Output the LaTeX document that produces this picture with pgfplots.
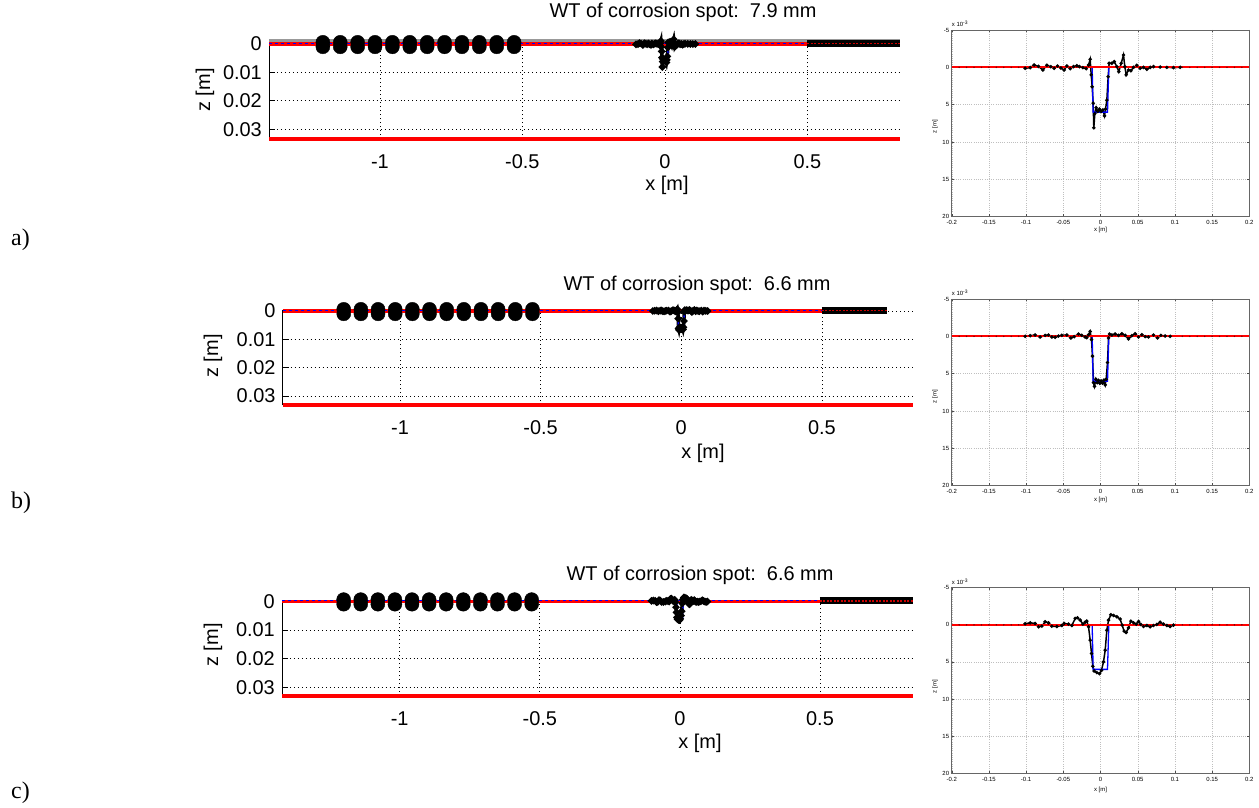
\documentclass[border=0pt]{standalone}
\usepackage{pgfplots}
\pgfplotsset{compat=1.18}
\usepackage{pgfplotstable}
\usepackage{fontspec}
\setmainfont{Liberation Sans}
\newfontfamily\seriffont{Liberation Serif}

\pgfplotstableread{
x z
-0.1013 0.13
-0.0945 0.04
-0.0892 -0.31
-0.0833 -0.13
-0.0775 0.36
-0.0721 -0.27
-0.0668 -0.09
-0.0623 0.13
-0.0578 -0.18
-0.0533 0.09
-0.0488 0.36
-0.0453 -0.18
-0.0408 0.18
-0.0363 -0.09
-0.0318 -0.22
-0.0282 -0.09
-0.0237 0.04
-0.0193 0.18
-0.0161 -0.31
-0.0139 -1.07
-0.0125 1.0
-0.0112 2.6
-0.0099 4.8
-0.0090 8.1
-0.0076 6.2
-0.0058 5.4
-0.0036 5.9
-0.0013 5.6
0.0009 5.9
0.0031 5.7
0.0054 6.5
0.0067 5.6
0.0085 4.4
0.0103 1.25
0.0116 -0.54
0.0152 -0.54
0.0184 -0.76
0.0220 -0.09
0.0246 0.58
0.0278 -0.54
0.0309 -1.65
0.0327 -0.09
0.0345 1.0
0.0376 0.36
0.0408 0.45
0.0444 0.0
0.0488 -0.27
0.0533 0.13
0.0578 0.0
0.0623 0.27
0.0668 0.0
0.0712 -0.09
0.0802 -0.04
0.0892 0.0
0.0981 0.04
0.1071 0.0
}\spotA

\pgfplotstableread{
x z
-0.1013 0
-0.0945 -0.09
-0.0878 -0.18
-0.0811 0.09
-0.0744 -0.13
-0.0699 -0.18
-0.0654 0.09
-0.0609 0.13
-0.0565 -0.04
-0.0520 -0.13
-0.0453 -0.18
-0.0399 0.22
-0.0354 0.04
-0.0296 -0.31
-0.0251 -0.13
-0.0206 0.09
-0.0184 0.18
-0.0161 -0.22
-0.0139 -0.66
-0.0121 0.44
-0.0108 2.65
-0.0094 6.2
-0.0081 6.7
-0.0063 5.75
-0.0045 6.2
-0.0027 5.9
-0.0009 6.3
0.0009 5.97
0.0027 6.28
0.0045 5.88
0.0063 6.5
0.0076 5.75
0.0094 3.5
0.0108 0.22
0.0121 -0.31
0.0152 -0.18
0.0197 -0.31
0.0242 -0.13
0.0287 -0.35
0.0332 -0.13
0.0376 0.35
0.0421 -0.09
0.0466 -0.35
0.0511 0.09
0.0556 -0.22
0.0600 0.04
0.0645 0.09
0.0712 -0.18
0.0766 0.22
0.0811 -0.13
0.0869 -0.04
0.0936 0
}\spotB

\pgfplotstableread{
x z
-0.1013 -0.14
-0.0945 -0.27
-0.0878 -0.18
-0.0833 0.27
-0.0788 0.18
-0.0744 -0.41
-0.0699 -0.27
-0.0654 0.18
-0.0587 0.23
-0.0520 0.09
-0.0488 -0.18
-0.0430 -0.09
-0.0385 0.09
-0.0340 -0.86
-0.0309 -0.95
-0.0273 -0.63
-0.0237 -0.09
-0.0206 -0.36
-0.0184 -0.5
-0.0161 0.27
-0.0139 2.07
-0.0121 3.87
-0.0103 5.59
-0.0085 6.22
-0.0049 6.44
-0.0013 6.58
0.0013 6.13
0.0040 5.0
0.0063 3.42
0.0085 0.72
0.0108 -0.63
0.0139 -1.35
0.0175 -1.26
0.0220 -1.08
0.0264 -0.77
0.0291 0.05
0.0318 0.86
0.0345 1.04
0.0376 0.41
0.0408 -0.5
0.0444 -0.27
0.0479 -0.09
0.0511 -0.45
0.0542 -0.05
0.0578 0.23
0.0623 0.09
0.0668 0.27
0.0712 0.09
0.0757 -0.05
0.0802 -0.36
0.0847 -0.09
0.0892 0.09
0.0936 0.23
0.0981 0.05
}\spotC

\pgfplotstableread{
x z
-1.200 0
-1.139 0
-1.078 0
-1.017 0
-0.956 0
-0.895 0
-0.834 0
-0.773 0
-0.712 0
-0.651 0
-0.590 0
-0.529 0
}\sensors

\pgfplotstableread{
x z
-0.0112 0
-0.0099 6
0.0094 6
0.0112 0
}\rect

\pgfplotstableread{
x z
-0.19 0
-0.18 0
-0.17 0
-0.16 0
-0.15 0
-0.14 0
-0.13 0
-0.12 0
-0.11 0
0.11 0
0.12 0
0.13 0
0.14 0
0.15 0
0.16 0
0.17 0
0.18 0
0.19 0
}\refline

\pgfplotsset{
  bigstyle/.style={
    scale only axis, clip=false, scaled y ticks=false, scaled x ticks=false,
    axis x line*=bottom, axis y line*=left,
    xtick={-1,-0.5,0,0.5}, xticklabels={-1,-0.5,0,0.5},
    ytick={0,-0.01,-0.02,-0.03}, yticklabels={0,0.01,0.02,0.03},
    grid=major,
    major grid style={black, line width=0.6pt, dash pattern=on 0.8pt off 3.2pt},
    tick align=inside, major tick length=6bp,
    x tick style={draw=none}, y tick style={black, line width=0.8pt},
    axis line style={black, line width=0.8pt},
    ticklabel style={font=\fontsize{20}{22}\selectfont},
    xticklabel style={anchor=center, yshift=-23bp},
    yticklabel style={anchor=east, inner sep=0pt, xshift=-7bp},
  },
  smallstyle/.style={
    scale only axis, width=297.6bp, scaled y ticks=false, scaled x ticks=false,
    xmin=-0.2, xmax=0.2, ymin=-20, ymax=5,
    xtick={-0.2,-0.15,-0.1,-0.05,0,0.05,0.1,0.15,0.2},
    xticklabels={-0.2,-0.15,-0.1,-0.05,0,0.05,0.1,0.15,0.2},
    ytick={5,0,-5,-10,-15,-20}, yticklabels={-5,0,5,10,15,20},
    grid=major,
    major grid style={black!25, line width=0.4pt, dash pattern=on 1pt off 1.2pt},
    tick align=inside, major tick length=2.5bp,
    tick style={black!70, line width=0.4pt},
    axis line style={black!60, line width=0.5pt},
    ticklabel style={font=\fontsize{6}{7}\selectfont, inner sep=0pt},
    xticklabel style={anchor=center, yshift=-6bp},
    yticklabel style={anchor=east, xshift=-2.4bp},
  },
}

\newcommand\bigdata[3]{% #1 = xmin, #2 = band end, #3 = spot table
  \addplot[red, line width=3.5pt] coordinates {(#1,0) (0.5,0)};
  \addplot[blue, line width=0.9pt, dash pattern=on 3pt off 3pt] coordinates {(#1,0.0002) (0.5,0.0002)};
  \addplot[black, line width=7pt] coordinates {(0.5,0.0003) (#2,0.0003)};
  \addplot[red!80!black, line width=1.5pt, dash pattern=on 2pt off 1.5pt] coordinates {(0.5,0.0001) (#2,0.0001)};
  \addplot[black, only marks, mark=*, mark size=7bp] table[x=x, y expr=0.0006] {\sensors};
  \addplot[black, only marks, mark=*, mark size=7bp] table[x=x, y expr=-0.0010] {\sensors};
  \addplot[black, line width=3.5pt, mark=*, mark size=1.5bp] table[x=x, y expr=-0.001*\thisrow{z}] {#3};
  \addplot[blue, line width=1.5pt] table[x=x, y expr=-0.001*\thisrow{z}] {\rect};
}

\newcommand\smalldata[1]{%
  \addplot[black, line width=1.5pt, mark=*, mark size=0.9bp] table[x=x, y expr=-\thisrow{z}] {#1};
  \addplot[blue, line width=1.3pt] table[x=x, y expr=-\thisrow{z}] {\rect};
  \addplot[red, line width=1.8pt] coordinates {(-0.2,0) (0.2,0)};
  \addplot[red!50!black, only marks, mark=*, mark size=0.5bp] table[x=x, y=z] {\refline};
}

\begin{document}
\begin{tikzpicture}
\path[use as bounding box] (0,0) rectangle (1259bp,808bp);

% ---------- a) big ----------
\begin{axis}[bigstyle, at={(269bp,669bp)}, anchor=south west,
  width=631bp, height=98.3bp,
  xmin=-1.389, xmax=0.825, ymin=-0.03345, ymax=0.00116]
  \addplot[gray!80, line width=3pt] coordinates {(-1.389,0.00116) (0.825,0.00116)};
  \bigdata{-1.389}{0.825}{\spotA}
  \addplot[red, line width=4pt] coordinates {(-1.389,-0.03345) (0.825,-0.03345)};
\end{axis}

% ---------- b) big ----------
\begin{axis}[bigstyle, at={(282.7bp,403bp)}, anchor=south west,
  width=630.3bp, height=95.4bp,
  xmin=-1.417, xmax=0.824, ymin=-0.0332, ymax=0.0005]
  \bigdata{-1.417}{0.731}{\spotB}
  \addplot[red, line width=4pt] coordinates {(-1.417,-0.0332) (0.824,-0.0332)};
\end{axis}

% ---------- c) big ----------
\begin{axis}[bigstyle, at={(282bp,112bp)}, anchor=south west,
  width=631bp, height=96.1bp,
  xmin=-1.42, xmax=0.832, ymin=-0.033, ymax=0.0005]
  \bigdata{-1.42}{0.832}{\spotC}
  \addplot[red, line width=4pt] coordinates {(-1.42,-0.033) (0.832,-0.033)};
\end{axis}

% ---------- small panels ----------
\begin{axis}[smallstyle, at={(951.7bp,591.3bp)}, anchor=south west, height=186.7bp]
  \smalldata{\spotA}
\end{axis}
\begin{axis}[smallstyle, at={(951.7bp,322.3bp)}, anchor=south west, height=186.7bp]
  \smalldata{\spotB}
\end{axis}
\begin{axis}[smallstyle, at={(951.7bp,34.7bp)}, anchor=south west, height=185.6bp]
  \smalldata{\spotC}
\end{axis}

% ---------- texts ----------
\begin{scope}[every node/.style={font=\fontsize{20}{22}\selectfont, inner sep=0pt}]
\node at (683bp,796bp) {WT of corrosion spot:~~7.9 mm};
\node at (667bp,623bp) {x [m]};
\node[rotate=90] at (205bp,718bp) {z [m]};
\node at (697bp,523bp) {WT of corrosion spot:~~6.6 mm};
\node at (703bp,355bp) {x [m]};
\node[rotate=90] at (213bp,452bp) {z [m]};
\node at (700bp,233bp) {WT of corrosion spot:~~6.6 mm};
\node at (700bp,65bp) {x [m]};
\node[rotate=90] at (213bp,163bp) {z [m]};
\end{scope}
\begin{scope}[every node/.style={font=\fontsize{6}{7}\selectfont, inner sep=0pt}]
\node at (1100.5bp,578bp) {x [m]};
\node[rotate=90] at (935bp,681.3bp) {z [m]};
\node[anchor=south west] at (951.7bp,781bp) {x 10\textsuperscript{-3}};
\node at (1100.5bp,308bp) {x [m]};
\node[rotate=90] at (935bp,411.3bp) {z [m]};
\node[anchor=south west] at (951.7bp,512bp) {x 10\textsuperscript{-3}};
\node at (1100.5bp,18bp) {x [m]};
\node[rotate=90] at (935bp,121.3bp) {z [m]};
\node[anchor=south west] at (951.7bp,223bp) {x 10\textsuperscript{-3}};
\end{scope}
\begin{scope}[every node/.style={font=\seriffont\fontsize{24}{26}\selectfont, inner sep=0pt, anchor=west}]
\node at (11bp,568bp) {a)};
\node at (11bp,305bp) {b)};
\node at (11bp,15bp) {c)};
\end{scope}
\end{tikzpicture}
\end{document}
